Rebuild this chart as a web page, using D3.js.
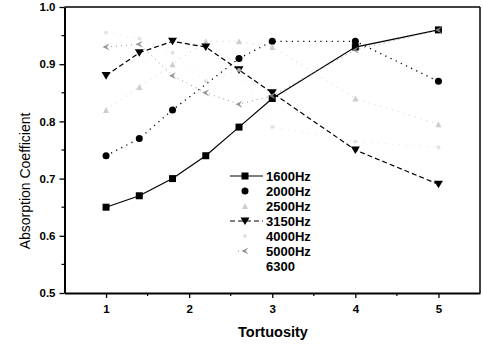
<!DOCTYPE html>
<html>
<head>
<meta charset="utf-8">
<script src="https://cdn.jsdelivr.net/npm/d3@7/dist/d3.min.js"></script>
<style>
  html, body { margin: 0; padding: 0; background: #fff; }
  svg { display: block; }
  text { font-family: "Liberation Sans", Arial, sans-serif; fill: #000; }
</style>
</head>
<body>
<svg id="chart" width="483" height="344"></svg>
<script>
// Absorption coefficient versus tortuosity, one series per frequency band
const tortuosity = [1, 1.4, 1.8, 2.2, 2.6, 3, 4, 5];
const hz1600 = [0.65, 0.67, 0.70, 0.74, 0.79, 0.84, 0.93, 0.96];
const hz2000 = [0.74, 0.77, 0.82, null, 0.91, 0.94, 0.94, 0.87];
const hz2500 = [0.82, 0.86, 0.90, 0.94, 0.94, 0.93, 0.84, 0.795];
const hz3150 = [0.88, 0.92, 0.94, 0.93, 0.89, 0.85, 0.75, 0.69];
const hz4000 = [0.955, 0.945, 0.92, 0.87, 0.89, 0.79, 0.765, 0.755];
const hz5000 = [0.93, 0.935, 0.88, 0.85, 0.83, 0.845, 0.925, 0.96];
const hz6300 = [];
const seriesLabels = ["1600Hz", "2000Hz", "2500Hz", "3150Hz", "4000Hz", "5000Hz", "6300"];
const xTicks = [1, 2, 3, 4, 5];
const yTicks = [0.5, 0.6, 0.7, 0.8, 0.9, 1.0];

const series = [
  { label: seriesLabels[0], values: hz1600, color: "#000", dash: null, width: 1.2, symbol: "square", size: 7, opacity: 1 },
  { label: seriesLabels[1], values: hz2000, color: "#000", dash: "1.2,4.5", width: 1.3, symbol: "circle", size: 7, opacity: 1 },
  { label: seriesLabels[2], values: hz2500, color: "#c4c4c4", dash: "1,5", width: 1, symbol: "up", size: 6, opacity: 0.85 },
  { label: seriesLabels[3], values: hz3150, color: "#000", dash: "5,3", width: 1.2, symbol: "down", size: 9, opacity: 1 },
  { label: seriesLabels[4], values: hz4000, color: "#dcdcdc", dash: "1,6", width: 1, symbol: "dot", size: 4, opacity: 0.8 },
  { label: seriesLabels[5], values: hz5000, color: "#8a8a8a", dash: "1,4", width: 1, symbol: "left", size: 7, opacity: 0.9 },
  { label: seriesLabels[6], values: hz6300, color: "#fff", dash: null, width: 1, symbol: "none", size: 0, opacity: 0 }
];

const svg = d3.select("#chart");
const x = d3.scaleLinear().domain([0.5, 5.5]).range([64.5, 480]);
const y = d3.scaleLinear().domain([0.5, 1.0]).range([293, 7]);

// symbol path generator centred on 0,0
function symbolPath(kind, s) {
  const h = s / 2;
  switch (kind) {
    case "square": return `M${-h},${-h}H${h}V${h}H${-h}Z`;
    case "circle": return d3.symbol(d3.symbolCircle, Math.PI * h * h)();
    case "up": return `M0,${-h}L${h},${h}L${-h},${h}Z`;
    case "down": return `M${-h},${-h * 0.8}L${h},${-h * 0.8}L0,${h * 0.9}Z`;
    case "left": return `M${-h},0L${h},${-h}L${h * 0.2},0L${h},${h}Z`;
    case "dot": return d3.symbol(d3.symbolCircle, Math.PI * h * h)();
    default: return "";
  }
}

// axes
const xAxis = d3.axisBottom(x).tickValues(xTicks).tickFormat(d3.format("d")).tickSize(5).tickSizeOuter(0);
const yAxis = d3.axisLeft(y).tickValues(yTicks).tickFormat(d3.format(".1f")).tickSize(5).tickSizeOuter(0);

const gx = svg.append("g").attr("transform", "translate(0,293)").call(xAxis);
const gy = svg.append("g").attr("transform", "translate(64.5,0)").call(yAxis);
[gx, gy].forEach(g => {
  g.select(".domain").attr("stroke", "#000").attr("stroke-width", 2);
  g.selectAll(".tick line").attr("stroke", "#000").attr("stroke-width", 1.3);
  g.selectAll(".tick text").style("font-size", "11.5px").style("font-weight", "bold")
    .style("font-family", '"Liberation Sans", Arial, sans-serif');
});
gx.selectAll(".tick text").attr("dy", "1.05em");
gy.selectAll(".tick text").attr("x", -9);

// minor ticks
const xMinor = d3.range(1.5, 5.5, 1);
const yMinor = d3.range(0.55, 1.0, 0.1);
svg.append("g").selectAll("line").data(xMinor).join("line")
  .attr("x1", d => x(d)).attr("x2", d => x(d)).attr("y1", 293).attr("y2", 296)
  .attr("stroke", "#000").attr("stroke-width", 1.2);
svg.append("g").selectAll("line").data(yMinor).join("line")
  .attr("x1", 64.5).attr("x2", 61.5).attr("y1", d => y(d)).attr("y2", d => y(d))
  .attr("stroke", "#000").attr("stroke-width", 1.2);

// frame top and right
svg.append("line").attr("x1", 64.5).attr("x2", 480).attr("y1", 7).attr("y2", 7).attr("stroke", "#000").attr("stroke-width", 1.5);
svg.append("line").attr("x1", 480).attr("x2", 480).attr("y1", 7).attr("y2", 293).attr("stroke", "#000").attr("stroke-width", 1.5);

// axis titles
svg.append("text").attr("x", 273).attr("y", 337).attr("text-anchor", "middle")
  .style("font-size", "14.5px").style("font-weight", "bold").text("Tortuosity");
svg.append("text").attr("transform", "translate(30,181) rotate(-90)").attr("text-anchor", "middle")
  .style("font-size", "14px").text("Absorption Coefficient");

// series lines and markers
const plot = svg.append("g");
series.forEach(s => {
  const pts = tortuosity.map((t, i) => ({ t, v: s.values[i] })).filter(p => p.v != null);
  if (!pts.length) return;
  const line = d3.line().x(p => x(p.t)).y(p => y(p.v));
  plot.append("path").datum(pts).attr("d", line)
    .attr("fill", "none").attr("stroke", s.color).attr("stroke-width", s.width)
    .attr("stroke-dasharray", s.dash).attr("opacity", s.opacity);
});
series.forEach(s => {
  const pts = tortuosity.map((t, i) => ({ t, v: s.values[i] })).filter(p => p.v != null);
  plot.append("g").selectAll("path").data(pts).join("path")
    .attr("transform", p => `translate(${x(p.t)},${y(p.v)})`)
    .attr("d", symbolPath(s.symbol, s.size))
    .attr("fill", s.color).attr("opacity", s.opacity);
});

// legend
const legend = svg.append("g").attr("transform", "translate(230,176)");
series.forEach((s, i) => {
  const row = legend.append("g").attr("transform", `translate(0,${i * 15})`);
  if (s.symbol !== "none") {
    if (s.label === "1600Hz" || s.label === "3150Hz" || s.label === "5000Hz") {
      row.append("line").attr("x1", s.label === "5000Hz" ? 8 : 0).attr("x2", s.label === "5000Hz" ? 14 : 33)
        .attr("y1", 0).attr("y2", 0)
        .attr("stroke", s.color).attr("stroke-width", s.width).attr("stroke-dasharray", s.dash);
    }
    row.append("path").attr("transform", "translate(15,0)")
      .attr("d", symbolPath(s.symbol, s.size)).attr("fill", s.color).attr("opacity", s.opacity);
  }
  row.append("text").attr("x", 36).attr("y", 0).attr("dy", "0.36em")
    .style("font-size", "13px").style("font-weight", "bold").text(s.label);
});
</script>
</body>
</html>
